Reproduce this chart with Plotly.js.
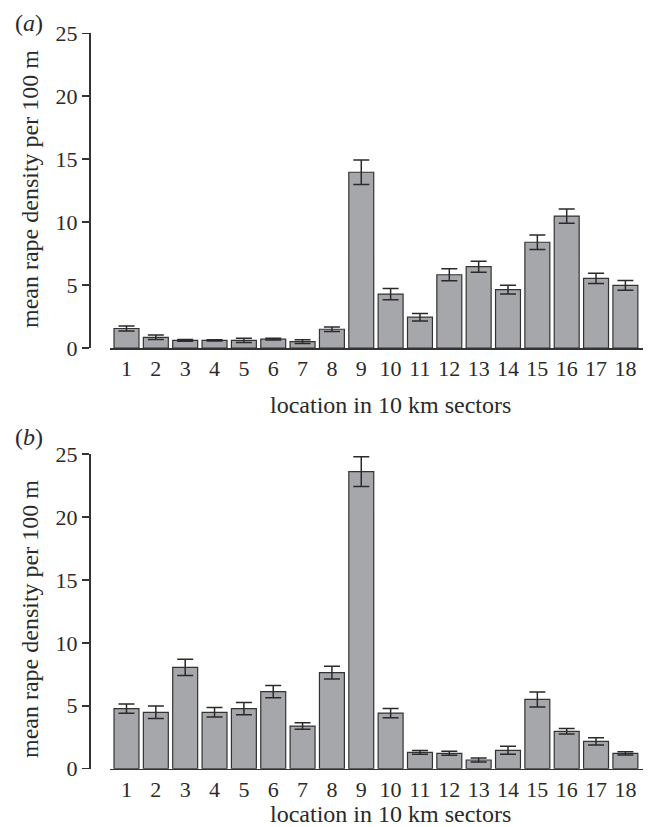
<!DOCTYPE html>
<html>
<head>
<meta charset="utf-8">
<script src="https://cdn.plot.ly/plotly-3.0.1.min.js"></script>
<style>html,body{margin:0;padding:0;background:#fff;}#chart{width:651px;height:827px;}</style>
</head>
<body>
<div id="chart"></div>
<script>
const sectors = [1,2,3,4,5,6,7,8,9,10,11,12,13,14,15,16,17,18];
const densityA = [1.55,0.85,0.6,0.6,0.6,0.7,0.5,1.49,13.96,4.28,2.45,5.82,6.46,4.63,8.4,10.48,5.53,4.97];
const errA = [0.2,0.18,0.07,0.05,0.17,0.07,0.15,0.18,0.98,0.45,0.3,0.47,0.44,0.35,0.58,0.57,0.41,0.39];
const densityB = [4.77,4.48,8.05,4.48,4.77,6.12,3.39,7.63,23.6,4.42,1.3,1.22,0.69,1.46,5.5,2.97,2.17,1.22];
const errB = [0.37,0.5,0.64,0.38,0.49,0.48,0.26,0.5,1.18,0.37,0.15,0.16,0.16,0.32,0.6,0.22,0.28,0.13];
const yTicks = [0,5,10,15,20,25];

const W = 651, H = 827;
const FONT = "'Liberation Serif', 'Times New Roman', serif";
const ink = "#2a2a2a";
const barFill = "#a6a7ab";

function barTrace(y, e, xa, ya) {
  return {
    type: 'bar', x: sectors, y: y, xaxis: xa, yaxis: ya,
    marker: {color: barFill, line: {color: '#333333', width: 1.2}},
    error_y: {type: 'data', array: e, visible: true, color: ink, thickness: 1.5, width: 8},
    hoverinfo: 'skip', showlegend: false
  };
}

const xDom = [110/W, 643/W];
const yPos = 89/W;
const domA = [1 - 348/H, 1 - 33.3/H];
const domB = [1 - 768.7/H, 1 - 454/H];

function xAxis(anchor) {
  return {
    domain: xDom, anchor: anchor, range: [0.438, 18.6],
    tickmode: 'array', tickvals: sectors, ticktext: sectors.map(String),
    showline: true, linecolor: '#333', linewidth: 1.5, ticks: '',
    showgrid: false, zeroline: false, fixedrange: true,
    tickfont: {family: FONT, size: 22, color: ink}
  };
}
function yAxis(dom) {
  return {
    domain: dom, anchor: 'free', position: yPos, range: [0, 25],
    tickmode: 'array', tickvals: yTicks,
    showline: true, linecolor: '#333', linewidth: 1.5,
    ticks: 'outside', ticklen: 7, tickwidth: 1.5, tickcolor: '#333',
    showgrid: false, zeroline: false, fixedrange: true,
    tickfont: {family: FONT, size: 22, color: ink}
  };
}

function ann(text, xpx, ypx, extra) {
  return Object.assign({
    text: text, xref: 'paper', yref: 'paper', x: xpx / W, y: 1 - ypx / H,
    xanchor: 'center', yanchor: 'middle', showarrow: false,
    font: {family: FONT, size: 24, color: ink}
  }, extra || {});
}

const layout = {
  width: W, height: H, autosize: false,
  margin: {l: 0, r: 0, t: 0, b: 0, pad: 0},
  paper_bgcolor: '#fff', plot_bgcolor: '#fff',
  bargap: 0.15, showlegend: false,
  xaxis: xAxis('y'), yaxis: yAxis(domA),
  xaxis2: xAxis('y2'), yaxis2: yAxis(domB),
  annotations: [
    ann('(<i>a</i>)', 29, 23),
    ann('(<i>b</i>)', 29, 437),
    ann('mean rape density per 100 m', 30, 189, {textangle: -90}),
    ann('mean rape density per 100 m', 30, 619, {textangle: -90}),
    ann('location in 10 km sectors', 390, 405),
    ann('location in 10 km sectors', 390, 814)
  ]
};

Plotly.newPlot('chart', [barTrace(densityA, errA, 'x', 'y'), barTrace(densityB, errB, 'x2', 'y2')], layout, {staticPlot: true, displayModeBar: false});
</script>
</body>
</html>
